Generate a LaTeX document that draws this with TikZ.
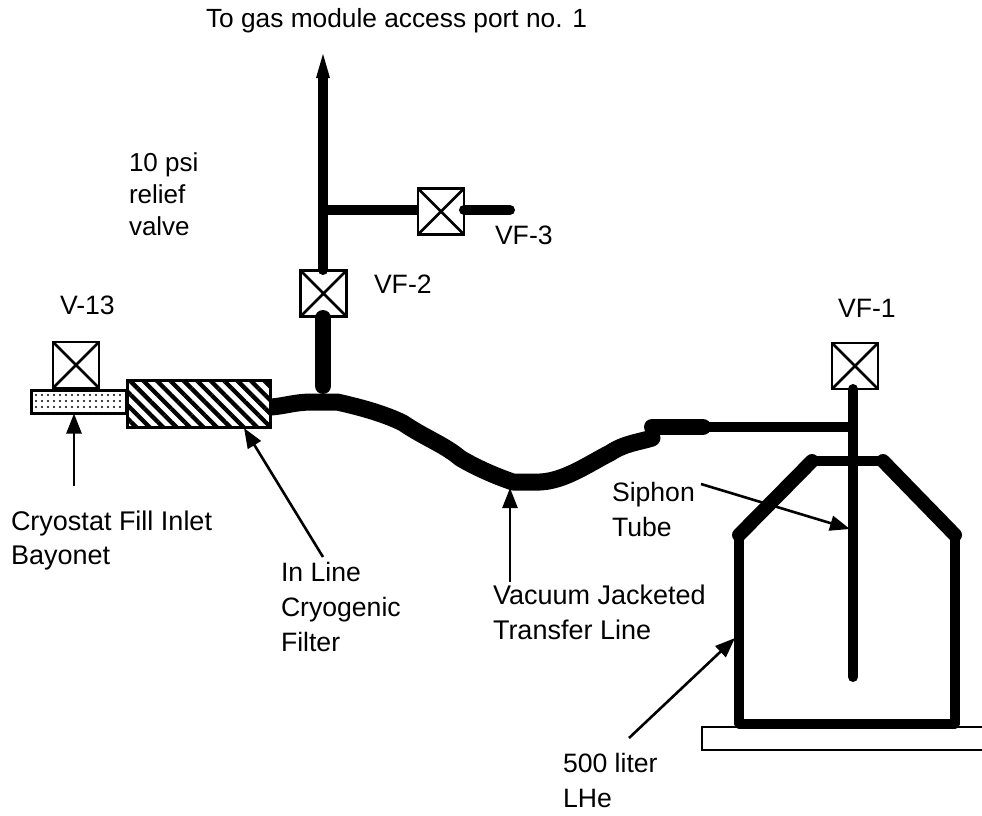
\documentclass[tikz,border=0pt]{standalone}
\usepackage{fontspec}
\setmainfont{Liberation Sans}
\usetikzlibrary{patterns.meta,arrows.meta}
\tikzset{
  x=1pt,y=-1pt,
  lbl/.style={inner sep=0pt,outer sep=0pt,anchor=base west,align=left,font=\fontsize{26.6}{35}\selectfont},
  valvebox/.style={draw,line width=2.8pt,fill=white,minimum size=46pt,inner sep=0pt,outer sep=0pt},
  pipe/.style={line width=10pt,line cap=round,line join=round},
  fatpipe/.style={line width=16pt,line cap=round,line join=round},
  leader/.style={line width=2.6pt,-{Triangle[length=20pt,width=15pt]}},
}
\newcommand{\valvecross}[1]{\draw[line width=2.6pt] (#1.north west)--(#1.south east) (#1.north east)--(#1.south west);}
\begin{document}
\begin{tikzpicture}
\useasboundingbox (0,0) rectangle (982,815);
% base
\coordinate (baseA) at (982,727); \coordinate (baseB) at (702,727);
\coordinate (baseC) at (702,750); \coordinate (baseD) at (982,750);
\draw[line width=2pt] (baseA)--(baseB)--(baseC)--(baseD);
% gas line
\coordinate (arrowTip) at (323,54);
\coordinate (tee) at (323,210);
\coordinate (vf3end) at (510,210);
\node[valvebox] (vf2) at (323.5,293.5) {}; \valvecross{vf2}
\node[valvebox] (vf3) at (441,211.5) {}; \valvecross{vf3}
\node[valvebox] (vf1) at (855,366) {}; \valvecross{vf1}
\node[valvebox] (v13) at (76,365) {}; \valvecross{v13}
\draw[line width=10pt,line cap=round] (323,270)--(323,75);
\draw[fill=black,draw=none] (arrowTip)--(330,78)--(316,78)--cycle;
\draw[pipe,line cap=butt] (tee)--(tee -| vf3.west);
\draw[pipe] (tee -| vf3.east)--(vf3end);
\draw[fatpipe] (323,318)--(323,386);
% bayonet + filter
\node[draw,line width=2.6pt,minimum width=95pt,minimum height=23pt,inner sep=0pt,outer sep=0pt,pattern={Dots[distance=6pt,radius=1.2pt]}] (bayonet) at (79,402) {};
\node[draw,line width=2.8pt,minimum width=143pt,minimum height=47pt,inner sep=0pt,outer sep=0pt,pattern={Lines[angle=-45,distance=9.5pt,line width=4.3pt]}] (filter) at (199,404) {};
% transfer line
\draw[line width=17pt,line join=round] (271,407)..controls (285,406) and (295,402) .. (312,402)
  -- (337,402) .. controls (360,407) and (385,414) .. (403,423)
  .. controls (425,438) and (445,445) .. (460,458)
  .. controls (475,467) and (495,476) .. (513,482)
  -- (540,482) .. controls (565,481) and (590,463) .. (610,453)
  .. controls (625,443) and (640,442) .. (652,438);
\fill (652,438) circle (8.5pt);
\draw[fatpipe] (652,427)--(703,427);
\draw[pipe,line cap=butt] (703,427)--(853,427);
% siphon
\draw[pipe] (853,389)--(853,677);
% dewar
\draw[pipe] (739,535)--(739,724)--(955,724)--(955,535);
\draw[line width=14pt,line cap=round] (739,535)--(812,461);
\draw[line width=14pt,line cap=round] (955,535)--(883,461);
\draw[pipe] (812,461)--(883,461);
% leaders
\coordinate (l1) at (74,486);
\coordinate (l2) at (323,557);
\coordinate (l2t) at (244,428);
\coordinate (l3) at (510,582);
\coordinate (l3t) at (510,488);
\coordinate (l4) at (701,484);
\coordinate (l4t) at (850,529);
\coordinate (l5) at (629,738);
\coordinate (l5t) at (735,638);
\draw[leader] (l1)--(bayonet.south -| l1);
\draw[leader] (l2)--(l2t);
\draw[leader] (l3)--(l3t);
\draw[leader] (l4)--(l4t);
\draw[leader] (l5)--(l5t);
% labels
\node[lbl,font=\fontsize{26.3}{32}\selectfont] (t0) at (206,27) {To gas module access port no. 1};
\node[lbl,font=\fontsize{26}{32}\selectfont] (t1) at (129,235) {10 psi\\relief\\valve};
\node[lbl] (t2) at (60,314) {V-13};
\node[lbl] (t3) at (374,293) {VF-2};
\node[lbl] (t4) at (495,244) {VF-3};
\node[lbl] (t5) at (838,317) {VF-1};
\node[lbl,font=\fontsize{27}{34}\selectfont] (t6) at (11,564) {Cryostat Fill Inlet\\Bayonet};
\node[lbl] (t7) at (281,651) {In Line\\Cryogenic\\Filter};
\node[lbl,font=\fontsize{27}{35}\selectfont] (t8) at (493,639) {Vacuum Jacketed\\Transfer Line};
\node[lbl] (t9) at (612,536) {Siphon\\Tube};
\node[lbl] (t10) at (563,807) {500 liter\\LHe};
\end{tikzpicture}
\end{document}
